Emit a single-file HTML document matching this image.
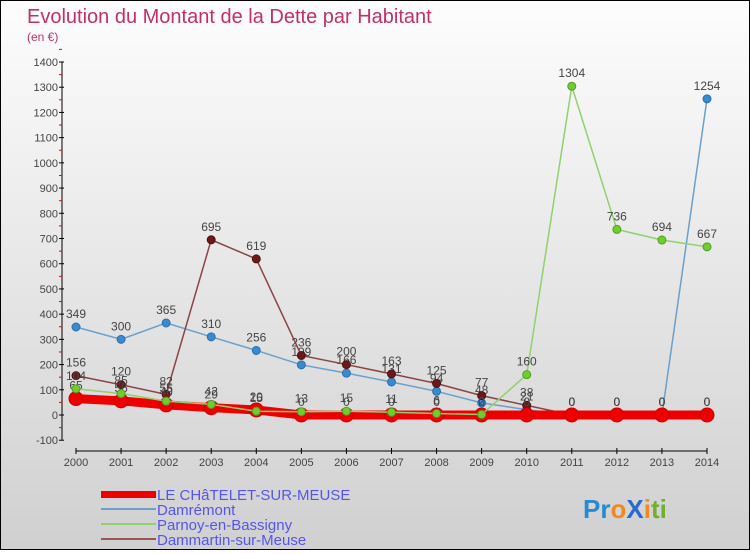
<!DOCTYPE html>
<html><head><meta charset="utf-8">
<style>
body{margin:0;width:750px;height:550px;overflow:hidden;font-family:"Liberation Sans",sans-serif}
#wrap{position:relative;width:748px;height:548px;border:1px solid #000;background:linear-gradient(#fdfdfd,#d0d0d0)}
svg text{font-family:"Liberation Sans",sans-serif}
</style></head><body>
<div id="wrap">
<svg id="chart" width="748" height="548">
<text x="26" y="22" font-size="20" fill="#c0306a">Evolution du Montant de la Dette par Habitant</text>
<text x="26" y="40" font-size="12" fill="#c0306a">(en €)</text>
<g id="axes"></g><g id="series"></g>
<g>
<rect x="100" y="490" width="55" height="7" fill="#e00"/>
<text x="156" y="499" font-size="15" fill="#5555ee">LE CHâTELET-SUR-MEUSE</text>
<line x1="100" x2="155" y1="508" y2="508" stroke="#6aa0cc" stroke-width="2"/>
<text x="156" y="514" font-size="15" fill="#5555ee">Damrémont</text>
<line x1="100" x2="155" y1="523" y2="523" stroke="#90d070" stroke-width="2"/>
<text x="156" y="529" font-size="15" fill="#5555ee">Parnoy-en-Bassigny</text>
<line x1="100" x2="155" y1="538" y2="538" stroke="#9a5555" stroke-width="2"/>
<text x="156" y="544" font-size="15" fill="#5555ee">Dammartin-sur-Meuse</text>
</g>
<text x="582" y="517" font-size="26" font-weight="bold"><tspan fill="#2a8ad0">Pr</tspan><tspan fill="#f08a20">o</tspan><tspan fill="#2a6ad0">X</tspan><tspan fill="#f08a20">i</tspan><tspan fill="#70b030">ti</tspan></text>
</svg></div>
<script>
const years=[2000,2001,2002,2003,2004,2005,2006,2007,2008,2009,2010,2011,2012,2013,2014];
const yTicks=[-100,0,100,200,300,400,500,600,700,800,900,1000,1100,1200,1300,1400];
const chatelet=[65,56,40,29,20,0,0,0,0,0,0,0,0,0,0];
const damremont=[349,300,365,310,256,199,166,131,94,48,21,0,0,0,1254];
const parnoy=[104,85,55,42,15,13,15,11,6,2,160,1304,736,694,667];
const dammartin=[156,120,82,695,619,236,200,163,125,77,38,0,0,0,0];
const NS="http://www.w3.org/2000/svg";
function X(i){return 75+i*(631/14);}
function Y(v){return 414-v*(353/1400);}
function mk(tag,attrs,parent){const e=document.createElementNS(NS,tag);for(const k in attrs)e.setAttribute(k,attrs[k]);parent.appendChild(e);return e;}
const axes=document.getElementById('axes'),ser=document.getElementById('series');
let a=mk('line',{x1:61,x2:61,y1:Y(1400),y2:Y(-100),stroke:'#000'},axes);


yTicks.forEach(t=>{
 mk('line',{x1:58,x2:63,y1:Y(t),y2:Y(t),stroke:'#000'},axes);
 mk('line',{x1:58,x2:61,y1:Y(t+50),y2:Y(t+50),stroke:'#e00'},axes);
 const tx=mk('text',{x:57,y:Y(t)+4,'font-size':11,fill:'#444','text-anchor':'end'},axes);
 tx.textContent=t;
 
 
});
let xa=mk('line',{x1:X(0),x2:X(14),y1:450,y2:450,stroke:'#000'},axes);


years.forEach((y,i)=>{
 mk('line',{x1:X(i),x2:X(i),y1:447,y2:453,stroke:'#000'},axes);
 const tx=mk('text',{x:X(i),y:465,'font-size':11,fill:'#444','text-anchor':'middle'},axes);
 tx.textContent=y;
 
 
});
function draw(vals,color,width,r,name,dot,stroke){
 const g=mk('g',{},ser);
 
 
 mk('polyline',{points:vals.map((v,i)=>X(i)+','+Y(v)).join(' '),fill:'none',stroke:color,'stroke-width':width},g);
 vals.forEach((v,i)=>{
  const c=mk('circle',{cx:X(i),cy:Y(v),r:r,fill:dot,stroke:stroke,'stroke-width':1},g);
  
  
  const t=mk('text',{x:X(i),y:Y(v)-9,'font-size':12,fill:'#444','text-anchor':'middle'},g);
  t.textContent=v;
  
  
 });
}
draw(damremont,'#6aa0cc',1.5,4,'damremont','#3a8ad0','#2a70b0');
draw(dammartin,'#8a4444',1.5,4,'dammartin','#6a1a1a','#501010');
draw(chatelet,'#ee0000',9,7,'chatelet','#ee0000','#cc0000');
draw(parnoy,'#90d070',1.5,4,'parnoy','#70cc30','#50a020');
</script>
</body></html>
